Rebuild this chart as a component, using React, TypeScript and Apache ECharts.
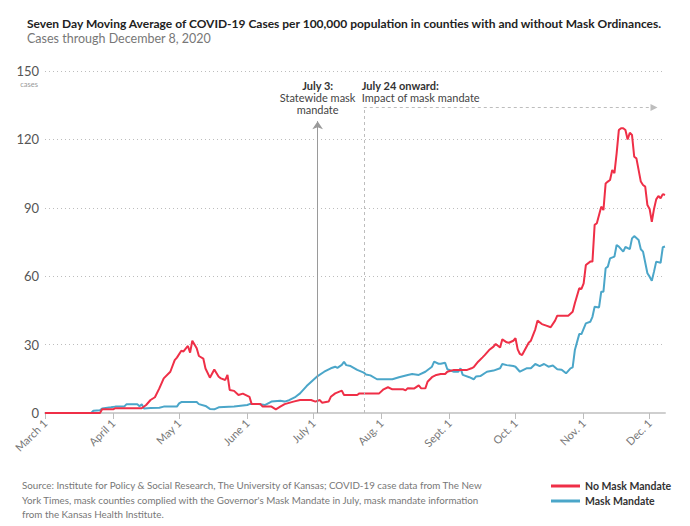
import React, { useEffect, useRef } from "react";
import * as echarts from "echarts";

// ---- axis categories (March 1 – December 8, 2020) ----
const monthNumbers = [3, 4, 5, 6, 7, 8, 9, 10, 11, 12];
const monthLengths = [31, 30, 31, 30, 31, 31, 30, 31, 30, 8];
const categories: string[] = monthNumbers.flatMap((m, i) =>
  Array.from({ length: monthLengths[i] }, (_, d) => `${m}/${d + 1}`)
);
const monthLabels: Record<string, string> = {
  "3/1": "March 1",
  "4/1": "April 1",
  "5/1": "May 1",
  "6/1": "June 1",
  "7/1": "July 1",
  "8/1": "Aug. 1",
  "9/1": "Sept. 1",
  "10/1": "Oct. 1",
  "11/1": "Nov. 1",
  "12/1": "Dec. 1",
};

// ---- No Mask Mandate (red) ----
const noMaskDates = [
  "3/1", "3/26", "3/27", "4/1", "4/2", "4/14", "4/16", "4/18", "4/20", "4/22", "4/24", "4/27", "4/29", "4/30",
  "5/2", "5/3", "5/5", "5/6", "5/7", "5/9", "5/10", "5/12", "5/13", "5/15", "5/17", "5/19", "5/20", "5/22",
  "5/23", "5/24", "5/26", "5/28", "5/30", "6/2", "6/3", "6/7", "6/8", "6/12", "6/14", "6/16", "6/18", "6/22",
  "6/25", "6/30", "7/2", "7/4", "7/5", "7/8", "7/9", "7/11", "7/14", "7/15", "7/21", "7/22", "7/31", "8/2",
  "8/4", "8/6", "8/11", "8/12", "8/13", "8/16", "8/18", "8/19", "8/21", "8/22", "8/24", "8/26", "8/28", "8/30",
  "8/31", "9/3", "9/9", "9/11", "9/12", "9/14", "9/16", "9/17", "9/19", "9/21", "9/22", "9/24", "9/25", "9/27",
  "9/28", "9/30", "10/1", "10/2", "10/3", "10/4", "10/7", "10/8", "10/10", "10/11", "10/13", "10/15", "10/17",
  "10/19", "10/20", "10/25", "10/27", "10/28", "10/30", "10/31", "11/1", "11/2", "11/4", "11/5", "11/6", "11/7",
  "11/9", "11/10", "11/11", "11/12", "11/13", "11/14", "11/15", "11/16", "11/17", "11/18", "11/19", "11/20",
  "11/21", "11/22", "11/23", "11/24", "11/25", "11/27", "11/28", "11/29", "11/30", "12/1", "12/2", "12/3",
  "12/4", "12/5", "12/6", "12/7", "12/8",
];
const noMaskValues = [
  0, 0, 1.6, 1.6, 2.1, 2.1, 3.5, 5.7, 6.9, 10.8, 15.2, 18.1, 23.2, 24.3,
  27.3, 27, 29.4, 26.5, 31.7, 28.4, 25, 23.9, 19.5, 15.5, 19.1, 15.9, 15.2, 14.5,
  16.7, 10.1, 9.7, 7.9, 8.5, 7.1, 3.9, 3.9, 2.8, 2.8, 1.6, 2.8, 3.9, 5,
  5.7, 5.7, 5, 5.7, 4.5, 5, 7.1, 8.6, 9.8, 7.9, 7.9, 8.6, 8.6, 10.4,
  11.3, 10.4, 10.4, 9.9, 10.9, 10.8, 12.1, 10.9, 10.8, 13.7, 15.7, 16.7, 17.1, 17.1,
  18.1, 18.9, 18.9, 19.6, 20.1, 22.5, 24.4, 25.4, 27.6, 29.1, 30.3, 28.7, 32.3, 31,
  30.8, 31.7, 32.8, 27.9, 25.9, 25.4, 30.8, 31.7, 36.7, 40.5, 39, 38.3, 37.6,
  40.5, 42.7, 42.7, 44.4, 48.1, 54.7, 54.4, 56.9, 64.9, 66.4, 66.4, 82.5, 83.2,
  90.5, 89, 100.7, 101.5, 102.2, 106.6, 105.2, 113.9, 124.1, 124.9, 124.9, 124.1,
  120, 122.9, 121.9, 112.4, 111.7, 101.5, 100, 99.3, 91.2, 89.5, 83.9, 89.5,
  93.7, 95.2, 94.2, 96, 95.6,
];

// ---- Mask Mandate (blue) ----
const maskDates = [
  "3/1", "3/22", "3/23", "3/26", "3/27", "3/31", "4/2", "4/6", "4/7", "4/12", "4/13", "4/14", "4/15", "4/18",
  "4/22", "4/24", "4/30", "5/1", "5/2", "5/9", "5/10", "5/13", "5/15", "5/17", "5/19", "5/26", "6/1", "6/2",
  "6/6", "6/9", "6/12", "6/16", "6/18", "6/20", "6/23", "6/25", "6/28", "7/1", "7/3", "7/6", "7/9", "7/11",
  "7/12", "7/14", "7/15", "7/16", "7/18", "7/21", "7/24", "7/25", "7/27", "7/30", "8/6", "8/9", "8/13", "8/15",
  "8/18", "8/21", "8/24", "8/25", "8/27", "8/28", "8/30", "8/31", "9/3", "9/5", "9/6", "9/7", "9/10", "9/12",
  "9/13", "9/15", "9/18", "9/21", "9/24", "9/25", "9/27", "9/30", "10/1", "10/3", "10/6", "10/8", "10/10",
  "10/12", "10/14", "10/16", "10/18", "10/20", "10/22", "10/24", "10/26", "10/27", "10/28", "10/30", "10/31",
  "11/2", "11/4", "11/5", "11/6", "11/8", "11/9", "11/10", "11/11", "11/12", "11/13", "11/15", "11/16", "11/17",
  "11/19", "11/20", "11/22", "11/23", "11/24", "11/26", "11/27", "11/28", "11/30", "12/1", "12/2", "12/3",
  "12/4", "12/6", "12/7", "12/8",
];
const maskValues = [
  0, 0, 1, 1.2, 2, 2.5, 2.8, 2.8, 3.8, 3.8, 3, 3.8, 2, 2.2,
  2.3, 2.8, 2.8, 4.2, 4.8, 4.8, 3.9, 3.1, 1.8, 1.6, 2.5, 2.8, 3.5, 3.9,
  3.9, 3.5, 5, 5.4, 5, 5.6, 7.1, 8.6, 11.8, 14.5, 16.2, 18.1, 19.6, 20.3,
  19.8, 21.1, 22.5, 21, 20.6, 18.9, 17.7, 16.9, 16.5, 14.8, 14.8, 15.7, 16.7, 17.1,
  16.7, 18.1, 20.3, 22.5, 21.6, 21.6, 22, 19.2, 18.1, 18.1, 19.6, 16.7, 15.7, 14.8,
  16, 16.2, 18.1, 18.6, 19.6, 21.5, 21, 20.6, 20.3, 18.1, 19.6, 19.6, 21.5,
  20.6, 21.5, 20.3, 20.8, 19.2, 19, 17.4, 19.6, 20, 27.6, 34.6, 34.6,
  39.3, 40, 42.2, 46.6, 46.3, 53.2, 53.2, 63.5, 64.2, 67.8, 68.6, 73.7, 73,
  70.8, 72.8, 71.9, 76.6, 77.6, 75.9, 71.8, 70.8, 61.3, 59.8, 58, 62,
  66.4, 65.9, 72.7, 73,
];

// ---- annotation anchors ----
const mandateDate = "7/3";
const impactDate = "7/24";
const impactArrowEnd = "12/3";
const mandateArrowTop = 128;
const impactLineLevel = 134;

const yTicks = { min: 0, max: 150, interval: 30 };

const RED = "#ef2f47";
const BLUE = "#4ba6c9";
const FONT = "Lato, 'Noto Sans', sans-serif";

export default function App() {
  const ref = useRef<HTMLDivElement>(null);

  useEffect(() => {
    if (!ref.current) return;
    const chart = echarts.init(ref.current, undefined, { renderer: "svg" });
    const isMonthStart = (_i: number, v: string) => v in monthLabels;

    const option: any = {
      animation: false,
      backgroundColor: "#fff",
      textStyle: { fontFamily: FONT },
      title: {
        text: "Seven Day Moving Average of COVID-19 Cases per 100,000 population in counties with and without Mask Ordinances.",
        subtext: "Cases through December 8, 2020",
        left: 22,
        top: 12,
        itemGap: 3,
        textStyle: { fontFamily: FONT, fontSize: 12, fontWeight: "bold", color: "#222" },
        subtextStyle: { fontFamily: FONT, fontSize: 12.5, color: "#777" },
      },
      legend: {
        orient: "vertical",
        left: 546,
        top: 475,
        itemWidth: 29,
        itemHeight: 3,
        itemGap: 3,
        icon: "rect",
        data: ["No Mask Mandate", "Mask Mandate"],
        textStyle: { fontFamily: FONT, fontSize: 10.5, fontWeight: "bold", color: "#333", lineHeight: 12 },
      },
      grid: { left: 45, right: 25, top: 71, bottom: 113 },
      xAxis: {
        type: "category",
        data: categories,
        boundaryGap: false,
        axisLine: { lineStyle: { color: "#cfcfcf", width: 2 } },
        axisTick: { interval: isMonthStart, length: 6, lineStyle: { color: "#bdbdbd" } },
        axisLabel: {
          interval: isMonthStart,
          rotate: 45,
          margin: 8,
          fontSize: 11,
          color: "#777",
          fontFamily: FONT,
          formatter: (v: string) => monthLabels[v] || "",
        },
        splitLine: { show: false },
      },
      yAxis: {
        type: "value",
        min: yTicks.min,
        max: yTicks.max,
        interval: yTicks.interval,
        axisLine: { show: false },
        axisTick: { show: false },
        axisLabel: { fontSize: 13, color: "#555", margin: 6, fontFamily: FONT },
        splitLine: { lineStyle: { color: "#bdbdbd", type: [1, 3], width: 1 } },
      },
      series: [
        {
          name: "Mask Mandate",
          type: "line",
          data: maskDates.map((d, i) => [d, maskValues[i]]),
          symbol: "none",
          color: BLUE,
          lineStyle: { color: BLUE, width: 2 },
          z: 2,
          markLine: {
            silent: true,
            animation: false,
            label: { show: false },
            data: [
              [
                { coord: [mandateDate, 0], symbol: "none", lineStyle: { color: "#9a9a9a", type: "solid", width: 1 } },
                { coord: [mandateDate, mandateArrowTop], symbol: "arrow", symbolSize: 8 },
              ],
              [
                { coord: [impactDate, 0], symbol: "none", lineStyle: { color: "#bdbdbd", type: [3, 3], width: 1 } },
                { coord: [impactDate, impactLineLevel], symbol: "none" },
              ],
              [
                { coord: [impactDate, impactLineLevel], symbol: "none", lineStyle: { color: "#bdbdbd", type: [3, 3], width: 1 } },
                { coord: [impactArrowEnd, impactLineLevel], symbol: "triangle", symbolSize: 7 },
              ],
            ],
          },
        },
        {
          name: "No Mask Mandate",
          type: "line",
          data: noMaskDates.map((d, i) => [d, noMaskValues[i]]),
          symbol: "none",
          color: RED,
          lineStyle: { color: RED, width: 2 },
          z: 3,
        },
      ],
    };
    chart.setOption(option);

    const x3 = chart.convertToPixel({ xAxisIndex: 0 }, mandateDate) as number;
    const x24 = chart.convertToPixel({ xAxisIndex: 0 }, impactDate) as number;
    const yTop = chart.convertToPixel({ yAxisIndex: 0 }, yTicks.max) as number;
    const txt = (text: string, x: number, y: number, extra: any = {}) => ({
      type: "text",
      x,
      y,
      silent: true,
      style: {
        text,
        fontFamily: FONT,
        fontSize: 11,
        fill: "#444",
        textAlign: "center",
        textVerticalAlign: "middle",
        ...extra,
      },
    });
    chart.setOption({
      graphic: [
        txt("July 3:", x3, 85, { fontWeight: "bold", fill: "#333" }),
        txt("Statewide mask", x3, 97),
        txt("mandate", x3, 109),
        txt("July 24 onward:", x24 - 2, 85, { fontWeight: "bold", fill: "#333", textAlign: "left" }),
        txt("Impact of mask mandate", x24 - 2, 97, { textAlign: "left" }),
        txt("cases", 38, yTop + 13, { fontSize: 7.5, fill: "#999", textAlign: "right" }),
        {
          type: "text",
          left: 22,
          top: 478,
          silent: true,
          style: {
            text:
              "Source: Institute for Policy & Social Research, The University of Kansas; COVID-19 case data from The New\nYork Times, mask counties complied with the Governor's Mask Mandate in July, mask mandate information\nfrom the Kansas Health Institute.",
            fontFamily: FONT,
            fontSize: 9.8,
            lineHeight: 14.5,
            fill: "#777",
          },
        },
      ],
    });

    return () => chart.dispose();
  }, []);

  return (
    <div
      ref={ref}
      style={{ position: "absolute", left: 0, top: 0, width: 690, height: 526, background: "#fff" }}
    />
  );
}
